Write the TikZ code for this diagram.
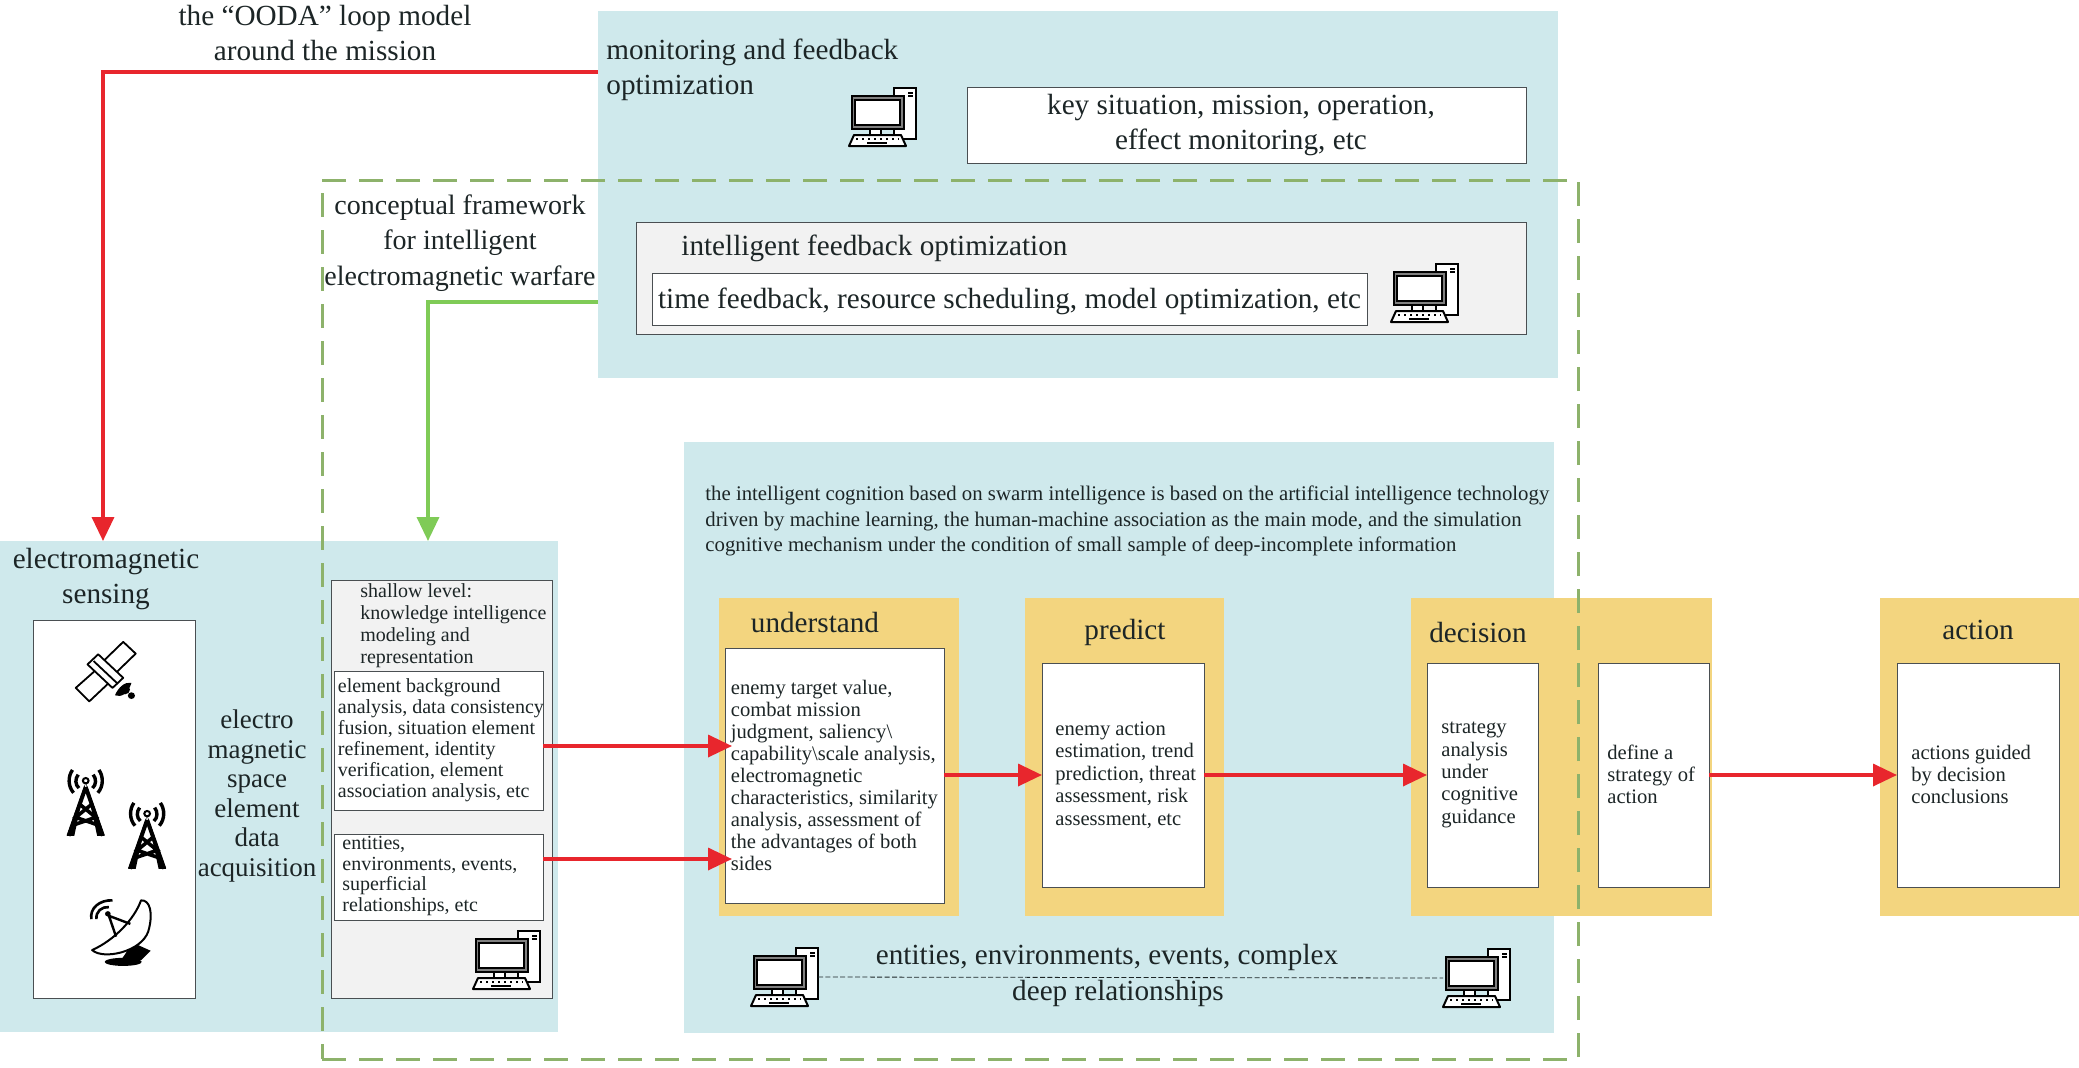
\documentclass[tikz,border=0pt]{standalone}
\usepackage{fontspec}
\setmainfont{Liberation Serif}
\usetikzlibrary{arrows.meta}
\definecolor{pblue}{HTML}{CFE9EC}
\definecolor{pgold}{HTML}{F3D57F}
\definecolor{pgrey}{HTML}{F2F2F2}
\definecolor{dgreen}{HTML}{8DB26B}
\definecolor{agreen}{HTML}{7FCB57}
\definecolor{ared}{HTML}{E8262D}
\definecolor{ink}{HTML}{1C2526}
\definecolor{edge}{HTML}{4A4F52}
\newcommand{\BX}[6]{\node[#2,minimum width={(#5-#3)*0.5pt},minimum height={(#6-#4)*0.5pt}] (#1) at ({(#3+#5)/2},{(#4+#6)/2}) {};}
\tikzset{
  panel/.style={fill=pblue,draw=none,inner sep=0pt,outer sep=0pt},
  gold/.style={fill=pgold,draw=none,inner sep=0pt,outer sep=0pt},
  greybox/.style={fill=pgrey,draw=edge,line width=0.5pt,inner sep=0pt,outer sep=0pt},
  whitebox/.style={fill=white,draw=edge,line width=0.5pt,inner sep=0pt,outer sep=0pt},
  slot/.style={draw=none,inner sep=0pt,outer sep=0pt},
  big/.style={text=ink,inner sep=0pt,align=center,font=\fontsize{14.6}{17.6}\selectfont},
  bigl/.style={big,align=left,anchor=west},
  mid/.style={text=ink,inner sep=0pt,align=center,font=\fontsize{13.5}{14.8}\selectfont},
  small/.style={text=ink,inner sep=0pt,align=left,anchor=west,font=\fontsize{10.3}{11}\selectfont},
  para/.style={text=ink,inner sep=0pt,align=left,anchor=west,font=\fontsize{10.4}{12.6}\selectfont},
  redarrow/.style={draw=ared,line width=1.75pt,-{Triangle[length=12pt,width=11pt,fill=ared]}},
  greenarrow/.style={draw=agreen,line width=1.75pt,-{Triangle[length=12pt,width=11pt,fill=agreen]}},
  zoomcoords/.style={x=0.17857pt,y=-0.16807pt,shift={(0pt,-270pt)}},
  computer/.pic={
    \draw[line width=0.9pt,fill=white] (45,0) rectangle (67,51);
    \draw[line width=0.6pt] (59,5)--(64,5) (59,8)--(64,8);
    \draw[line width=1pt,fill=gray] (2.5,8) rectangle (55,41);
    \draw[line width=0.8pt,fill=white] (6,12) rectangle (51,37);
    \draw[line width=0.8pt,fill=white] (21,41) rectangle (32,47);
    \draw[line width=1pt,fill=white,line join=round] (5,47)--(52,47)--(57,58)--(0,58)--cycle;
    \draw[line width=1pt,dotted] (7,51)--(50,51);
    \draw[line width=0.8pt] (18,55)--(38,55);
  },
}
\begin{document}
\begin{tikzpicture}[x=0.5pt,y=-0.5pt]
\useasboundingbox (0,0) rectangle (2079,1067);
% panels
\BX{topblue}{panel}{598}{11}{1558}{378}
\BX{leftblue}{panel}{0}{541}{558}{1032}
\BX{midblue}{panel}{684}{442}{1554}{1033}
\BX{goldU}{gold}{719}{598}{959}{916}
\BX{goldP}{gold}{1025}{598}{1224}{916}
\BX{goldD}{gold}{1411}{598}{1712}{916}
\BX{goldA}{gold}{1880}{598}{2079}{916}
% boxes
\BX{monbox}{whitebox}{967}{87}{1526}{163}
\BX{feedgrey}{greybox}{636}{222}{1526}{334}
\BX{feedwhite}{whitebox}{652}{273}{1367}{325}
\BX{sensebox}{whitebox}{33}{620}{195}{998}
\BX{shallow}{greybox}{331.5}{580}{552}{998}
\BX{elembox}{whitebox}{334.5}{671.5}{543}{810}
\BX{entbox}{whitebox}{334.5}{834.5}{543}{920}
\BX{underbox}{whitebox}{725}{648}{944}{903}
\BX{predbox}{whitebox}{1042}{663}{1204}{887}
\BX{decbox}{whitebox}{1427}{663}{1538}{887}
\BX{defbox}{whitebox}{1598}{663}{1709}{887}
\BX{actbox}{whitebox}{1897}{663}{2059}{887}
% computer slots
\BX{compTop}{slot}{849}{88}{916}{146}
\BX{compFeed}{slot}{1391}{264}{1458}{322}
\BX{compShallow}{slot}{473}{931}{540}{989}
\BX{compL}{slot}{751}{948}{818}{1006}
\BX{compR}{slot}{1443}{949}{1510}{1007}
\pic at (compTop.north west) {computer};
\pic at (compFeed.north west) {computer};
\pic at (compShallow.north west) {computer};
\pic at (compL.north west) {computer};
\pic at (compR.north west) {computer};
\draw[draw=ink,line width=0.4pt,dash pattern=on 2.5pt off 1.2pt] (compL.east) -- (compR.west);
% dashed frame
\node[draw=dgreen,line width=1.5pt,dash pattern=on 12pt off 6.5pt,minimum width=628pt,minimum height=439.5pt,inner sep=0pt,outer sep=0pt] (frame) at (950,619.5) {};
% texts
\node[big] (ooda) at (325,33) {the “OODA” loop model\\around the mission};
\node[bigl] (montitle) at (606,70) {monitoring and feedback\\optimization};
\node[big] (montext) at (1241,125) {key situation, mission, operation,\\effect monitoring, etc};
\node[big,font=\fontsize{14}{17.6}\selectfont] (concept) at (460,243) {conceptual framework\\for intelligent\\electromagnetic warfare};
\node[bigl] (feedtitle) at (681,248) {intelligent feedback optimization};
\node[big] (feedtext) at (1009.5,301) {time feedback, resource scheduling, model optimization, etc};
\node[big] (sensetitle) at (106,579) {electromagnetic\\sensing};
\node[mid] (acq) at (257,796) {electro\\magnetic\\space\\element\\data\\acquisition};
\node[small,font=\fontsize{10}{11}\selectfont] (shallowtext) at (360,625.5) {shallow level:\\knowledge intelligence\\modeling and\\representation};
\node[small,font=\fontsize{10}{10.5}\selectfont] (elemtext) at (337.5,740) {element background\\analysis, data consistency\\fusion, situation element\\refinement, identity\\verification, element\\association analysis, etc};
\node[small,font=\fontsize{10}{10.2}\selectfont] (enttext) at (342,876) {entities,\\environments, events,\\superficial\\relationships, etc};
\node[para] (paratext) at (705,521) {the intelligent cognition based on swarm intelligence is based on the artificial intelligence technology\\driven by machine learning, the human-machine association as the main mode, and the simulation\\cognitive mechanism under the condition of small sample of deep-incomplete information};
\node[big] (undertitle) at (815,623) {understand};
\node[big] (predtitle) at (1125,632) {predict};
\node[big] (dectitle) at (1478,632) {decision};
\node[big] (acttitle) at (1978,630) {action};
\node[small] (undertext) at (730.5,775) {enemy target value,\\combat mission\\judgment, saliency\textbackslash\\capability\textbackslash scale analysis,\\electromagnetic\\characteristics, similarity\\analysis, assessment of\\the advantages of both\\sides};
\node[small,font=\fontsize{10.3}{11.2}\selectfont] (predtext) at (1055,775) {enemy action\\estimation, trend\\prediction, threat\\assessment, risk\\assessment, etc};
\node[small,font=\fontsize{10.3}{11.2}\selectfont] (dectext) at (1441,775) {strategy\\analysis\\under\\cognitive\\guidance};
\node[small] (deftext) at (1607,774) {define a\\strategy of\\action};
\node[small] (acttext) at (1911,774) {actions guided\\by decision\\conclusions};
\node[big,font=\fontsize{14.6}{18}\selectfont] (deeptext) at (1107,975.5) {entities, environments, events, complex\\\hspace*{11pt}deep relationships};
% connectors
\coordinate (rt) at (103,72);
\coordinate (gt) at (428,302);
\coordinate (u1) at (732,746);
\coordinate (u2) at (732,859);
\draw[redarrow] (topblue.west |- rt) -- (rt) -- (rt |- leftblue.north);
\draw[greenarrow] (topblue.west |- gt) -- (gt) -- (gt |- leftblue.north);
\draw[redarrow] (u1 -| elembox.east) -- (u1);
\draw[redarrow] (u2 -| entbox.east) -- (u2);
\draw[redarrow] (underbox.east |- predbox.west) -- (predbox.west);
\draw[redarrow] (predbox.east) -- (decbox.west);
\draw[redarrow] (defbox.east) -- (actbox.west);
% sensing icons (coordinates of the enlarged view)
\begin{scope}[zoomcoords]
  % satellite
  \begin{scope}[line width=0.9pt,line join=round]
    \draw[fill=white] (345,303)--(380,338)--(312,408)--(278,372)--cycle;
    \draw[fill=white] (212,440)--(250,480)--(318,412)--(282,374)--cycle;
    \draw[fill=white] (275,340)--(245,370)--(315,440)--(345,410)--cycle;
    \draw (262,360)--(330,428);
    \fill (322,462) .. controls (340,470) and (360,455) .. (368,425) .. controls (350,420) and (330,440) .. cycle;
    \fill (350,445) circle[radius=14];
    \fill (368,463) circle[radius=10];
  \end{scope}
  % towers
  \foreach \dx/\dy in {0/0,172/98}{
    \begin{scope}[shift={(\dx,\dy)}]
      \draw[line width=2pt] (240,735)--(192,880) (240,735)--(288,880);
      \draw[line width=1.8pt] (222,785)--(268,825)--(205,848) (258,785)--(212,825)--(275,848);
      \fill (187,880)--(208,880)--(240,720)--cycle (293,880)--(272,880)--(240,720)--cycle;
      \draw[line width=1pt,fill=white] (240,716) circle[radius=8];
      \draw[line width=1.7pt] (219,698) .. controls (210,710) and (210,728) .. (221,738);
      \draw[line width=1.7pt] (203,684) .. controls (190,703) and (190,733) .. (206,752);
      \draw[line width=1.7pt] (261,698) .. controls (270,710) and (270,728) .. (259,738);
      \draw[line width=1.7pt] (277,684) .. controls (290,703) and (290,733) .. (274,752);
    \end{scope}
  }
  % dish
  \fill (345,1255) ellipse[x radius=52,y radius=12];
  \fill (372,1198)--(422,1222)--(395,1250)--(340,1248)--cycle;
  \draw[line width=1pt,fill=white,line join=round] (258,1220) .. controls (320,1190) and (375,1130) .. (395,1072) .. controls (420,1070) and (430,1110) .. (415,1165) .. controls (395,1225) and (290,1250) .. (258,1220)--cycle;
  \draw[line width=1.2pt] (365,1142)--(305,1118)--(325,1180);
  \fill (302,1112) circle[radius=8];
  \draw[line width=1.3pt] (270,1128) .. controls (268,1105) and (285,1090) .. (305,1092);
  \draw[line width=1.3pt] (256,1128) .. controls (250,1095) and (280,1070) .. (315,1072);
\end{scope}
\end{tikzpicture}
\end{document}
